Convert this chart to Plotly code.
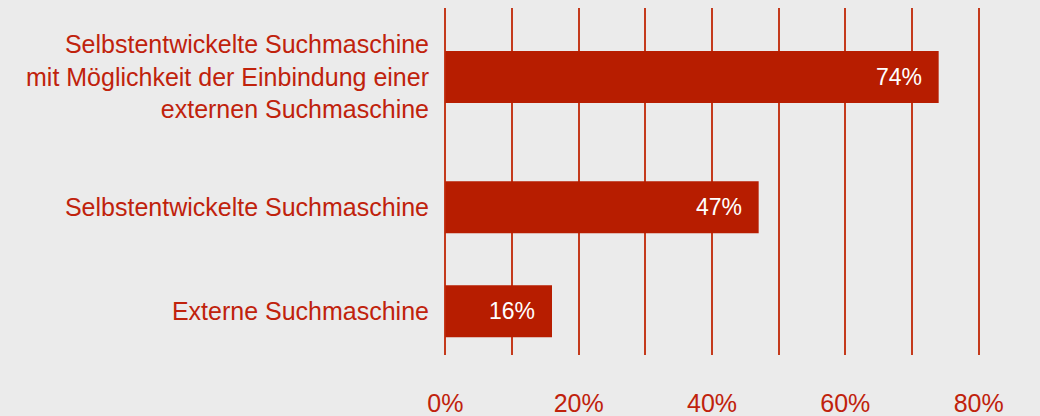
import plotly.graph_objects as go

categories = [
    "Selbstentwickelte Suchmaschine<br>mit Möglichkeit der Einbindung einer<br>externen Suchmaschine",
    "Selbstentwickelte Suchmaschine",
    "Externe Suchmaschine",
]
values = [74, 47, 16]
value_labels = ["74%", "47%", "16%"]
row_positions = [0, 2.5, 4.5]
x_tick_vals = [0, 10, 20, 30, 40, 50, 60, 70, 80]
x_tick_text = ["0%", "", "20%", "", "40%", "", "60%", "", "80%"]

BAR = "#b71d00"
TEXT = "#c0220c"
GRID = "#c43a1c"
BG = "#ebebeb"
FONT = "Liberation Sans, Arial, sans-serif"

fig = go.Figure()
fig.add_trace(go.Bar(
    x=values,
    y=row_positions,
    orientation="h",
    width=1,
    marker=dict(color=BAR, line=dict(width=0)),
    hoverinfo="skip",
))

for v, p, t in zip(values, row_positions, value_labels):
    fig.add_annotation(
        x=v, y=p, text=t, showarrow=False,
        xanchor="right", yanchor="middle", xshift=-15,
        font=dict(family=FONT, size=23, color="white"),
    )

fig.update_layout(
    width=1040, height=416,
    margin=dict(l=442, r=58, t=8, b=61),
    paper_bgcolor=BG, plot_bgcolor=BG,
    showlegend=False,
    font=dict(family=FONT, size=24, color=TEXT),
    xaxis=dict(
        range=[-0.5, 80.5],
        tickvals=x_tick_vals, ticktext=x_tick_text,
        showgrid=True, gridcolor=GRID, gridwidth=1.5,
        zeroline=False, showline=False, ticks="",
        ticklabelstandoff=31, automargin=False,
        tickfont=dict(family=FONT, size=25, color=TEXT),
        fixedrange=True,
    ),
    yaxis=dict(
        range=[5.34, -1.327],
        tickvals=row_positions, ticktext=categories,
        showgrid=False, zeroline=False, showline=False, ticks="",
        ticklabelstandoff=12, automargin=False,
        tickfont=dict(family=FONT, size=25, color=TEXT),
        fixedrange=True,
    ),
)

fig.write_html(
    "out.html",
    config={"displayModeBar": False},
    post_script="document.body.style.margin='0';document.body.style.overflow='hidden';",
)
